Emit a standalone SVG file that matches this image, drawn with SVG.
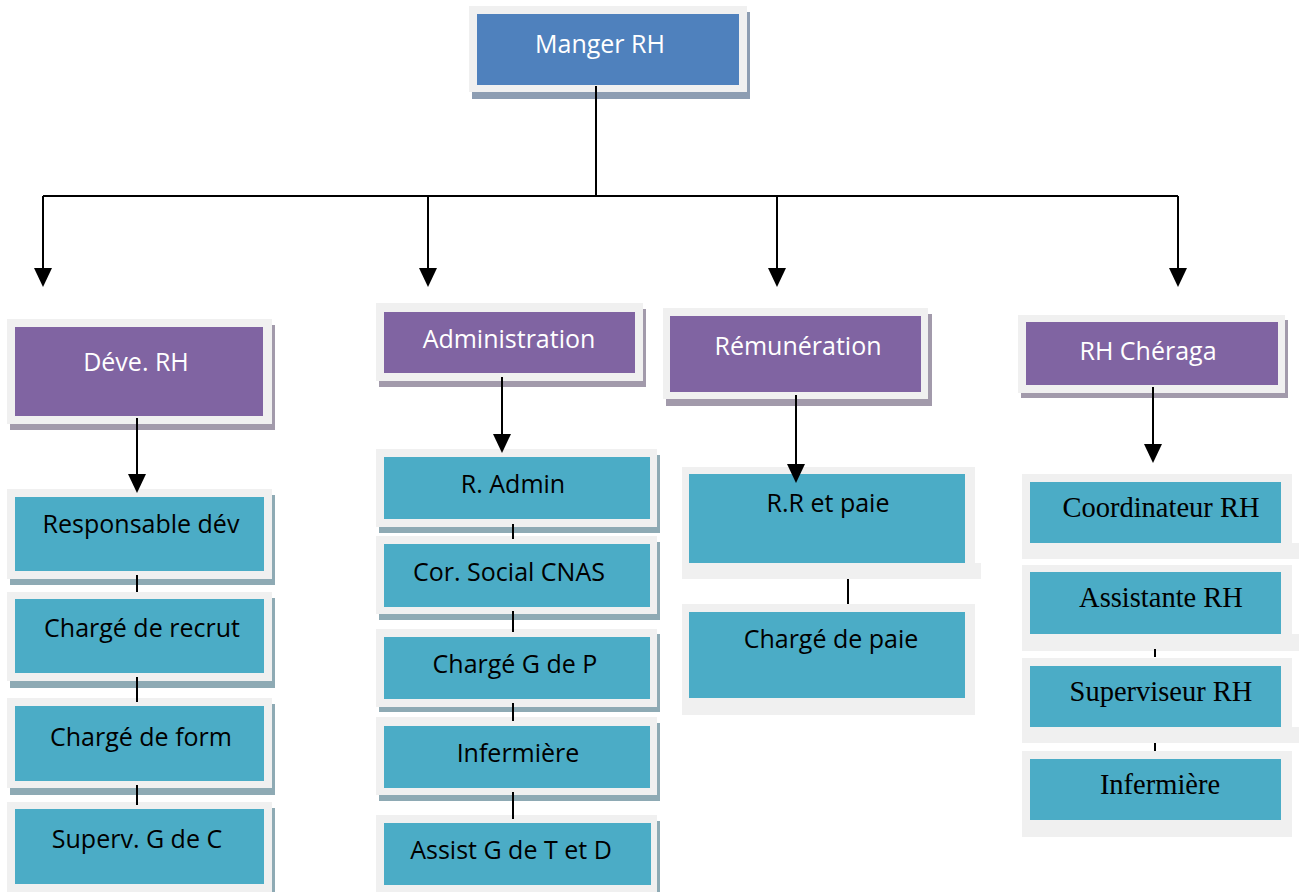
<svg xmlns="http://www.w3.org/2000/svg" width="1299" height="892" viewBox="0 0 1299 892">
  <defs>
    <style>
      .frame { fill: #f0f0f0; }
      .sh-blue { fill: #8d9db2; }
      .sh-purple { fill: #a29aab; }
      .sh-teal { fill: #8eaab4; }
      .blue { fill: #4f81bd; }
      .purple { fill: #8064a2; }
      .teal { fill: #4bacc6; }
      .lbl { font-family: "Open Sans", "Noto Sans", sans-serif; font-size: 25px; text-anchor: middle; }
      .lbl-serif { font-family: "Liberation Serif", "Times New Roman", serif; font-size: 28.5px; text-anchor: middle; fill: #000; }
      .w { fill: #ffffff; }
      .k { fill: #000000; }
      .wire { stroke: #000; stroke-width: 2; fill: none; }
    </style>
    <!-- arrowhead drawn along +x; orient="auto" turns it to the path direction -->
    <marker id="head" markerUnits="userSpaceOnUse" markerWidth="19" markerHeight="18" viewBox="0 0 19 18" refX="10" refY="9" orient="auto">
      <path d="M0,0 L19,9 L0,18 Z" fill="#000"/>
    </marker>
  </defs>

  <rect width="1299" height="892" fill="#ffffff"/>

  <!-- top -->
  <g id="manager">
    <rect class="sh-blue" x="472" y="12" width="278" height="87"/>
    <rect class="frame" x="469" y="6" width="278" height="86"/>
    <rect class="blue" x="477" y="14" width="262" height="71"/>
    <text class="lbl w" x="600" y="53">Manger RH</text>
  </g>

  <!-- column 1 -->
  <g id="dev-rh">
    <rect class="sh-purple" x="10" y="325" width="265" height="105"/>
    <rect class="frame" x="7" y="319" width="265" height="105"/>
    <rect class="purple" x="15" y="327" width="248" height="89"/>
    <text class="lbl w" x="136" y="371">Déve. RH</text>
  </g>
  <g id="responsable-dev">
    <rect class="sh-teal" x="10" y="495" width="265" height="90"/>
    <rect class="frame" x="7" y="489" width="265" height="90"/>
    <rect class="teal" x="15" y="497" width="249" height="74"/>
    <text class="lbl k" x="141" y="533">Responsable dév</text>
  </g>
  <g id="charge-recrut">
    <rect class="sh-teal" x="10" y="598" width="265" height="90"/>
    <rect class="frame" x="7" y="592" width="265" height="89"/>
    <rect class="teal" x="15" y="599" width="249" height="74"/>
    <text class="lbl k" x="142" y="637">Chargé de recrut</text>
  </g>
  <g id="charge-form">
    <rect class="sh-teal" x="10" y="704" width="265" height="91"/>
    <rect class="frame" x="7" y="698" width="265" height="90"/>
    <rect class="teal" x="15" y="706" width="249" height="75"/>
    <text class="lbl k" x="141" y="746">Chargé de form</text>
  </g>
  <g id="superv-gc">
    <rect class="sh-teal" x="10" y="808" width="265" height="90"/>
    <rect class="frame" x="7" y="802" width="265" height="92"/>
    <rect class="teal" x="15" y="809" width="249" height="75"/>
    <text class="lbl k" x="137" y="848">Superv. G de C</text>
  </g>

  <!-- column 2 -->
  <g id="administration">
    <rect class="sh-purple" x="379" y="309" width="267" height="78"/>
    <rect class="frame" x="376" y="303" width="267" height="78"/>
    <rect class="purple" x="384" y="312" width="251" height="61"/>
    <text class="lbl w" x="509" y="348">Administration</text>
  </g>
  <g id="r-admin">
    <rect class="sh-teal" x="379" y="455" width="281" height="78"/>
    <rect class="frame" x="376" y="449" width="281" height="78"/>
    <rect class="teal" x="384" y="457" width="266" height="62"/>
    <text class="lbl k" x="513" y="493">R. Admin</text>
  </g>
  <g id="cor-social">
    <rect class="sh-teal" x="379" y="542" width="281" height="78"/>
    <rect class="frame" x="376" y="536" width="281" height="78"/>
    <rect class="teal" x="384" y="544" width="266" height="63"/>
    <text class="lbl k" x="509" y="581">Cor. Social CNAS</text>
  </g>
  <g id="charge-gp">
    <rect class="sh-teal" x="379" y="634" width="281" height="78"/>
    <rect class="frame" x="376" y="629" width="281" height="78"/>
    <rect class="teal" x="384" y="637" width="266" height="62"/>
    <text class="lbl k" x="515" y="673">Chargé G de P</text>
  </g>
  <g id="infirmiere-admin">
    <rect class="sh-teal" x="379" y="723" width="281" height="78"/>
    <rect class="frame" x="376" y="717" width="281" height="78"/>
    <rect class="teal" x="384" y="726" width="266" height="62"/>
    <text class="lbl k" x="518" y="762">Infermière</text>
  </g>
  <g id="assist-gtd">
    <rect class="sh-teal" x="379" y="821" width="281" height="78"/>
    <rect class="frame" x="376" y="815" width="281" height="80"/>
    <rect class="teal" x="384" y="823" width="267" height="62"/>
    <text class="lbl k" x="511" y="859">Assist G de T et D</text>
  </g>

  <!-- column 3 -->
  <g id="remuneration">
    <rect class="sh-purple" x="666" y="314" width="266" height="92"/>
    <rect class="frame" x="663" y="308" width="265" height="91"/>
    <rect class="purple" x="670" y="316" width="251" height="76"/>
    <text class="lbl w" x="798" y="355">Rémunération</text>
  </g>
  <g id="rr-paie">
    <rect class="frame" x="682" y="467" width="293" height="112"/>
    <rect class="frame" x="682" y="563" width="299" height="16"/>
    <rect class="teal" x="689" y="474" width="276" height="89"/>
    <text class="lbl k" x="828" y="512">R.R et paie</text>
  </g>
  <g id="charge-paie">
    <rect class="frame" x="682" y="604" width="293" height="111"/>
    <rect class="teal" x="689" y="612" width="276" height="86"/>
    <text class="lbl k" x="831" y="648">Chargé de paie</text>
  </g>

  <!-- column 4 -->
  <g id="rh-cheraga">
    <rect class="sh-purple" x="1021" y="320" width="267" height="78"/>
    <rect class="frame" x="1018" y="315" width="267" height="78"/>
    <rect class="purple" x="1026" y="322" width="252" height="63"/>
    <text class="lbl w" x="1148" y="360">RH Chéraga</text>
  </g>
  <g id="coordinateur">
    <rect class="frame" x="1022" y="474" width="270" height="85"/>
    <rect class="frame" x="1022" y="543" width="277" height="16"/>
    <rect class="teal" x="1030" y="482" width="251" height="61"/>
    <text class="lbl-serif" x="1161" y="517">Coordinateur RH</text>
  </g>
  <g id="assistante">
    <rect class="frame" x="1022" y="565" width="270" height="86"/>
    <rect class="frame" x="1022" y="634" width="277" height="17"/>
    <rect class="teal" x="1030" y="572" width="251" height="62"/>
    <text class="lbl-serif" x="1161" y="607">Assistante RH</text>
  </g>
  <g id="superviseur">
    <rect class="frame" x="1022" y="658" width="270" height="85"/>
    <rect class="frame" x="1022" y="727" width="277" height="16"/>
    <rect class="teal" x="1030" y="666" width="251" height="61"/>
    <text class="lbl-serif" x="1161" y="701">Superviseur RH</text>
  </g>
  <g id="infirmiere-cheraga">
    <rect class="frame" x="1022" y="751" width="270" height="86"/>
    <rect class="teal" x="1030" y="759" width="251" height="61"/>
    <text class="lbl-serif" x="1160" y="794">Infermière</text>
  </g>

  <!-- connectors, drawn last so arrowheads sit over the boxes -->
  <g id="connectors">
    <path class="wire" d="M596,86 V196"/>
    <path class="wire" d="M43,196 H1178"/>
    <path class="wire" d="M43,196 V278" marker-end="url(#head)"/>
    <path class="wire" d="M428,196 V278" marker-end="url(#head)"/>
    <path class="wire" d="M777,196 V278" marker-end="url(#head)"/>
    <path class="wire" d="M1178,196 V278" marker-end="url(#head)"/>
    <path class="wire" d="M137,418 V484" marker-end="url(#head)"/>
    <path class="wire" d="M502,377 V444" marker-end="url(#head)"/>
    <path class="wire" d="M796,395 V474" marker-end="url(#head)"/>
    <path class="wire" d="M1153,387 V454" marker-end="url(#head)"/>
    <path class="wire" d="M137,575 V592 M137,677 V702 M137,785 V805"/>
    <path class="wire" d="M513,524 V539 M513,611 V632 M513,703 V721 M513,792 V819"/>
    <path class="wire" d="M848,579 V604"/>
    <path class="wire" d="M1155,649 V657 M1155,743 V751"/>
  </g>
</svg>
